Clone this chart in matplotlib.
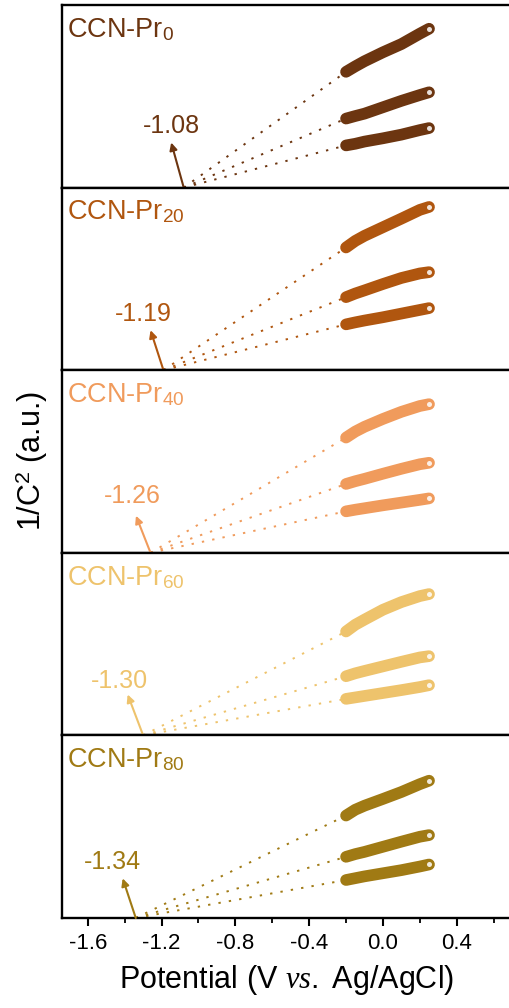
import numpy as np
import matplotlib.pyplot as plt
from matplotlib.ticker import MultipleLocator

plt.rcParams['font.family'] = ['Liberation Sans', 'DejaVu Sans']
plt.rcParams['mathtext.fontset'] = 'custom'
plt.rcParams['mathtext.rm'] = 'Liberation Sans'
plt.rcParams['mathtext.it'] = 'Liberation Serif:italic'

# ------------------------------------------------------------------
# data (y in arbitrary units per panel)
# ------------------------------------------------------------------
samples = ['0', '20', '40', '60', '80']
colors = ['#6C3510', '#B0560F', '#F09B5C', '#EEC36C', '#A07A14']
intercepts = [-1.08, -1.19, -1.26, -1.30, -1.34]

potential = [-0.20, -0.15, -0.10, 0.00, 0.10, 0.20, 0.25]

curves_top = [
    [0.634, 0.664, 0.692, 0.741, 0.786, 0.843, 0.870],
    [0.672, 0.708, 0.736, 0.783, 0.830, 0.878, 0.894],
    [0.631, 0.664, 0.690, 0.733, 0.772, 0.804, 0.814],
    [0.569, 0.606, 0.634, 0.688, 0.730, 0.763, 0.774],
    [0.561, 0.593, 0.615, 0.652, 0.690, 0.733, 0.752],
]
curves_mid = [
    [0.378, 0.392, 0.405, 0.440, 0.475, 0.507, 0.522],
    [0.400, 0.420, 0.437, 0.472, 0.505, 0.530, 0.537],
    [0.377, 0.392, 0.405, 0.433, 0.460, 0.485, 0.493],
    [0.324, 0.340, 0.353, 0.378, 0.403, 0.427, 0.434],
    [0.335, 0.350, 0.362, 0.390, 0.418, 0.445, 0.454],
]
curves_bot = [
    [0.231, 0.240, 0.252, 0.270, 0.290, 0.315, 0.326],
    [0.251, 0.262, 0.272, 0.290, 0.310, 0.330, 0.340],
    [0.227, 0.236, 0.244, 0.260, 0.275, 0.290, 0.298],
    [0.200, 0.208, 0.216, 0.232, 0.248, 0.265, 0.275],
    [0.208, 0.218, 0.228, 0.245, 0.262, 0.282, 0.293],
]

# arrow head and label positions (data coords of each panel)
arrow_head = [(-1.148, 0.247), (-1.26, 0.219), (-1.339, 0.203),
              (-1.384, 0.224), (-1.411, 0.217)]
label_pos = [(-1.148, 0.335), (-1.30, 0.31), (-1.357, 0.31),
             (-1.43, 0.297), (-1.466, 0.308)]

# ------------------------------------------------------------------
# figure
# ------------------------------------------------------------------
fig = plt.figure(figsize=(5.10, 10.08), dpi=100)
axes = fig.subplots(5, 1, sharex=True, gridspec_kw=dict(hspace=0))
fig.subplots_adjust(left=62/510, right=1.004, top=1-5/1008, bottom=1-918/1008)

for i, ax in enumerate(axes):
    c = colors[i]
    x0 = intercepts[i]
    for ys in (curves_top[i], curves_mid[i], curves_bot[i]):
        # dotted extrapolation to the x-intercept
        ax.plot([x0, potential[0]], [0, ys[0]], color=c, lw=1.4,
                dashes=(1.2, 4.2), zorder=2)
        ax.plot(potential, ys, color=c, lw=8.4, solid_capstyle='round',
                solid_joinstyle='round', zorder=3)
        ax.plot(potential[-1], ys[-1], 'o', ms=3.6, mfc='white', mec='none',
                alpha=0.85, zorder=4)

    ax.annotate('', xy=arrow_head[i], xytext=(x0, 0),
                arrowprops=dict(arrowstyle='-|>', color=c, lw=1.5,
                                mutation_scale=11, shrinkA=0, shrinkB=0))
    ax.text(label_pos[i][0], label_pos[i][1], f'{x0:.2f}', color=c,
            fontsize=18, ha='center', va='center')
    ax.text(0.01, 0.825, 'CCN-Pr$_\\mathregular{%s}$' % samples[i], color=c,
            fontsize=19.5, ha='left', va='baseline', transform=ax.transAxes)

    ax.set_ylim(0, 1)
    ax.set_xlim(-1.74, 0.70)
    ax.set_yticks([])
    for s in ax.spines.values():
        s.set_linewidth(1.7)
    ax.tick_params(axis='x', which='both', bottom=(i == 4), top=False,
                   labelbottom=(i == 4))

ax = axes[-1]
ax.xaxis.set_major_locator(MultipleLocator(0.4))
ax.xaxis.set_minor_locator(MultipleLocator(0.2))
ax.tick_params(axis='x', which='major', direction='out', length=6, width=1.5,
               labelsize=16, pad=5)
ax.tick_params(axis='x', which='minor', direction='out', length=3.5, width=1.3)
ax.set_xticks([-1.6, -1.2, -0.8, -0.4, 0.0, 0.4])
ax.set_xticklabels(['-1.6', '-1.2', '-0.8', '-0.4', '0.0', '0.4'])
ax.set_xlabel('Potential (V $\\mathit{vs.}$ Ag/AgCl)', fontsize=22, labelpad=6)

fig.text(0.062, 1 - 461/1008, '1/C$^\\mathregular{2}$ (a.u.)', rotation=90,
         fontsize=22, ha='center', va='center')

fig.savefig('out.png', dpi=100)
